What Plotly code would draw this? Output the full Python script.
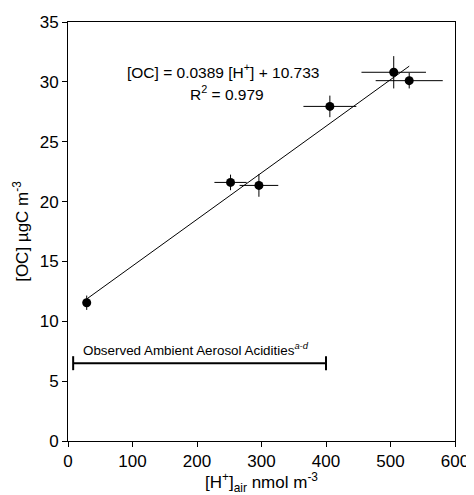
import plotly.graph_objects as go

# measured points: [H+]air (nmol m-3) vs [OC] (ugC m-3)
H_AIR = [29, 252, 296, 406, 505, 529]
OC = [11.55, 21.6, 21.35, 27.95, 30.8, 30.1]
H_ERR = [0, 25, 30, 41, 50, 52]
OC_ERR = [0.6, 0.65, 0.95, 0.9, 1.35, 0.65]

SLOPE = 0.0389
INTERCEPT = 10.733
R2 = 0.979

# observed ambient acidity range
RANGE_X = [8, 400]
RANGE_Y = 6.5

FONT = "Liberation Sans, Arial, sans-serif"

fit_x = [min(H_AIR), max(H_AIR)]
fit_y = [SLOPE * x + INTERCEPT for x in fit_x]

fig = go.Figure()

fig.add_trace(go.Scatter(
    x=fit_x, y=fit_y, mode="lines",
    line=dict(color="black", width=1), hoverinfo="skip"))

fig.add_trace(go.Scatter(
    x=H_AIR, y=OC, mode="markers",
    marker=dict(color="black", size=9),
    error_x=dict(type="data", array=H_ERR, color="black", thickness=1, width=0),
    error_y=dict(type="data", array=OC_ERR, color="black", thickness=1, width=0)))

fig.add_trace(go.Scatter(
    x=RANGE_X, y=[RANGE_Y] * len(RANGE_X), mode="lines+markers",
    line=dict(color="black", width=2),
    marker=dict(symbol="line-ns-open", size=10, color="black",
                line=dict(color="black", width=2))))

fig.add_annotation(
    x=sum(RANGE_X) / 2 - 6, y=RANGE_Y, yshift=3, xref="x", yref="y",
    text="Observed Ambient Aerosol Acidities<sup><i>a-d</i></sup>",
    showarrow=False, yanchor="bottom", font=dict(size=13.4, family=FONT, color="black"))

fig.add_annotation(
    x=241, y=30.9, xref="x", yref="y", showarrow=False,
    text=f"[OC] = {SLOPE} [H<sup>+</sup>] + {INTERCEPT}",
    font=dict(size=15.5, family=FONT, color="black"))
fig.add_annotation(
    x=247, y=29.1, xref="x", yref="y", showarrow=False,
    text=f"R<sup>2</sup> = {R2}",
    font=dict(size=15.5, family=FONT, color="black"))

axis_common = dict(showline=True, linecolor="black", linewidth=1, mirror=True,
                   ticks="outside", ticklen=5, tickcolor="black", showgrid=False,
                   zeroline=False, automargin=False,
                   tickfont=dict(size=17, family=FONT, color="black"))

# page body adds an 8px offset, margins below are compensated for it
fig.update_layout(
    width=466, height=487,
    margin=dict(l=60, r=19, t=14, b=54),
    paper_bgcolor="white", plot_bgcolor="white",
    showlegend=False,
    font=dict(family=FONT, color="black"),
    xaxis=dict(range=[0, 600], dtick=100,
               title=dict(text="[H<sup>+</sup>]<sub>air</sub> nmol m<sup>-3</sup>",
                          font=dict(size=17, family=FONT), standoff=3),
               **axis_common),
    yaxis=dict(range=[0, 35], dtick=5,
               title=dict(text="[OC] \u00b5gC m<sup>-3</sup>",
                          font=dict(size=17, family=FONT), standoff=6),
               **axis_common),
)

fig.write_html("out.html")
